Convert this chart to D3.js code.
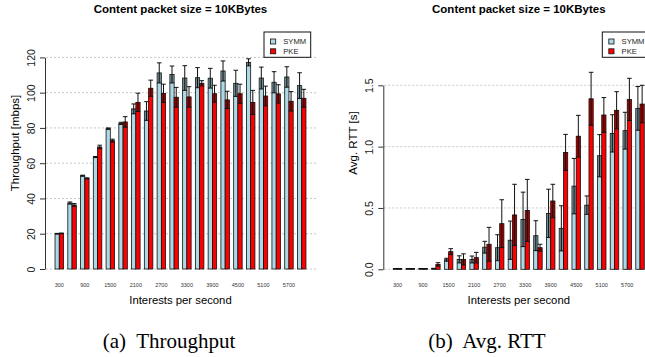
<!DOCTYPE html>
<html>
<head>
<meta charset="utf-8">
<script src="https://cdn.jsdelivr.net/npm/d3@7"></script>
<style>
  body { margin: 0; background: #fff; }
  svg { display: block; font-family: "Liberation Sans", Arial, sans-serif; }
</style>
</head>
<body>
<div id="chart"></div>
<script>
// categories (interests per second)
const rates = ['300', '600', '900', '1200', '1500', '1800', '2100', '2400', '2700', '3000',
               '3300', '3600', '3900', '4200', '4500', '4800', '5100', '5400', '5700', '6000'];
const xTickLabels = ['300', '', '900', '', '1500', '', '2100', '', '2700', '',
                     '3300', '', '3900', '', '4500', '', '5100', '', '5700', ''];
const seriesNames = ['SYMM', 'PKE'];

// throughput [mbps]
const thrSymm   = [20.0, 37.4, 52.9, 63.5, 79.6, 82.6, 90.8, 89.6, 111.2, 110.3,
                   108.3, 108.5, 108.2, 112.3, 105.3, 117.2, 108.3, 105.9, 108.9, 104.0];
const thrSymmSd = [0.2, 0.6, 0.3, 0.3, 0.4, 0.6, 2.8, 5.3, 5.7, 4.8,
                   7.0, 5.7, 5.6, 5.7, 7.4, 2.0, 6.2, 6.0, 5.8, 7.3];
const thrPke    = [20.2, 36.3, 51.4, 69.2, 72.8, 83.4, 94.5, 102.5, 99.6, 97.4,
                   97.6, 105.3, 99.4, 95.9, 99.4, 94.5, 98.1, 99.3, 95.1, 96.8];
const thrPkeSd  = [0.2, 0.8, 0.3, 1.0, 0.8, 3.0, 5.2, 4.6, 5.2, 5.6,
                   5.8, 1.5, 4.8, 4.9, 5.4, 6.8, 5.6, 5.2, 5.5, 5.1];

// avg. RTT [s]
const rttSymm   = [0.005, 0.005, 0.005, 0.006, 0.078, 0.081, 0.080, 0.180, 0.176, 0.237,
                   0.407, 0.274, 0.456, 0.334, 0.678, 0.523, 0.926, 1.108, 1.130, 1.312];
const rttSymmSd = [0.001, 0.001, 0.001, 0.002, 0.012, 0.029, 0.028, 0.048, 0.106, 0.156,
                   0.222, 0.122, 0.197, 0.184, 0.226, 0.075, 0.172, 0.152, 0.150, 0.178];
const rttPke    = [0.005, 0.005, 0.005, 0.040, 0.144, 0.081, 0.095, 0.204, 0.372, 0.443,
                   0.480, 0.176, 0.557, 0.953, 1.085, 1.390, 1.258, 1.296, 1.385, 1.347];
const rttPkeSd  = [0.001, 0.001, 0.001, 0.014, 0.024, 0.045, 0.043, 0.138, 0.195, 0.250,
                   0.253, 0.028, 0.136, 0.147, 0.170, 0.216, 0.142, 0.152, 0.172, 0.153];

const thrTicks = [0, 20, 40, 60, 80, 100, 120];
const rttTicks = [0, 0.5, 1.0, 1.5];

const colors = ['#add8e6', '#ff0000'];
const width = 645, height = 357;

const svg = d3.select('#chart').append('svg')
  .attr('width', width)
  .attr('height', height);

function drawPanel(opts) {
  const g = svg.append('g').attr('transform', `translate(${opts.left},0)`);
  const plotW = 271;

  // R barplot user coords: 20 groups of 2 bars with a gap of 1
  const x = d3.scaleLinear().domain([-1.36, 62.36]).range([0, plotW]);
  const y = d3.scaleLinear().domain(opts.yDomain).range(opts.yRange);
  const bw = x(2) - x(1);

  const rows = [];
  rates.forEach((r, i) => {
    opts.means.forEach((m, s) => {
      rows.push({ i: i, s: s, m: m[i], sd: opts.sds[s][i] });
    });
  });

  //grid
  g.append('g').selectAll('line')
    .data(opts.ticks)
    .enter()
    .append('line')
    .attr('x1', 1).attr('x2', plotW)
    .attr('y1', d => y(d)).attr('y2', d => y(d))
    .attr('stroke', '#c8c8c8')
    .attr('stroke-dasharray', '2,2');

  //bars
  const bars = g.append('g').selectAll('g')
    .data(rows)
    .enter()
    .append('g');

  bars.append('rect')
    .attr('x', d => x(1 + 3 * d.i + d.s))
    .attr('width', bw)
    .attr('y', d => y(d.m))
    .attr('height', d => y(0) - y(d.m))
    .attr('fill', d => colors[d.s])
    .attr('stroke', '#111')
    .attr('stroke-width', 0.8);

  // darkened band between mean-sd and mean
  bars.append('rect')
    .attr('x', d => x(1 + 3 * d.i + d.s) + 0.4)
    .attr('width', bw - 0.8)
    .attr('y', d => y(d.m))
    .attr('height', d => y(Math.max(0, d.m - d.sd)) - y(d.m))
    .attr('fill', '#000')
    .attr('fill-opacity', 0.36);

  //whiskers
  const cx = d => x(1.5 + 3 * d.i + d.s);
  bars.append('line')
    .attr('x1', cx).attr('x2', cx)
    .attr('y1', d => y(Math.max(0, d.m - d.sd)))
    .attr('y2', d => y(d.m + d.sd))
    .attr('stroke', '#111');
  bars.append('line')
    .attr('x1', d => cx(d) - 2.3).attr('x2', d => cx(d) + 2.3)
    .attr('y1', d => y(d.m + d.sd)).attr('y2', d => y(d.m + d.sd))
    .attr('stroke', '#111');
  bars.append('line')
    .attr('x1', d => cx(d) - 2.3).attr('x2', d => cx(d) + 2.3)
    .attr('y1', d => y(Math.max(0, d.m - d.sd))).attr('y2', d => y(Math.max(0, d.m - d.sd)))
    .attr('stroke', '#111');

  //y axis
  const yAxis = g.append('g')
    .call(d3.axisLeft(y).tickValues(opts.ticks).tickSize(5).tickSizeOuter(0).tickFormat(opts.fmt));
  yAxis.select('.domain').attr('stroke', '#333');
  yAxis.selectAll('.tick line').attr('stroke', '#333');
  yAxis.selectAll('.tick text')
    .attr('x', 0).attr('y', 0)
    .attr('dy', '0.35em')
    .attr('transform', 'translate(-13.5,0) rotate(-90)')
    .attr('text-anchor', 'middle')
    .attr('fill', '#222')
    .style('font-size', '10.5px')
    .style('font-family', '"Liberation Sans", Arial, sans-serif');

  //category labels
  g.append('g').selectAll('text')
    .data(xTickLabels)
    .enter()
    .append('text')
    .attr('x', (d, i) => x(2 + 3 * i))
    .attr('y', 286.5)
    .attr('text-anchor', 'middle')
    .style('font-size', '5.5px')
    .attr('fill', '#333')
    .text(d => d);

  //titles
  g.append('text')
    .attr('x', plotW / 2).attr('y', 13)
    .attr('text-anchor', 'middle')
    .style('font-size', '11.5px')
    .style('font-weight', 'bold')
    .text('Content packet size = 10KBytes');

  g.append('text')
    .attr('x', plotW / 2).attr('y', 304)
    .attr('text-anchor', 'middle')
    .style('font-size', '11.3px')
    .text('Interests per second');

  g.append('text')
    .attr('transform', 'translate(-30,143) rotate(-90)')
    .attr('dy', '0.35em')
    .attr('text-anchor', 'middle')
    .style('font-size', '11.5px')
    .text(opts.yLabel);

  //legend
  const lg = g.append('g').attr('transform', 'translate(219,32)');
  lg.append('rect')
    .attr('width', 46.7).attr('height', 25.3)
    .attr('fill', '#fff')
    .attr('stroke', '#111');
  seriesNames.forEach((name, s) => {
    lg.append('rect')
      .attr('x', 6.5).attr('y', 7 + s * 9.8)
      .attr('width', 5.2).attr('height', 5)
      .attr('fill', colors[s])
      .attr('stroke', '#111')
      .attr('stroke-width', 0.8);
    lg.append('text')
      .attr('x', 19.3).attr('y', 9.7 + s * 9.8)
      .attr('dy', '0.35em')
      .style('font-size', '7.6px')
      .attr('fill', '#222')
      .text(name);
  });
}

drawPanel({
  left: 45,
  means: [thrSymm, thrPke],
  sds: [thrSymmSd, thrPkeSd],
  yDomain: [0, 120],
  yRange: [269, 57.4],
  ticks: thrTicks,
  fmt: d3.format('d'),
  yLabel: 'Throughput [mbps]'
});

drawPanel({
  left: 383.3,
  means: [rttSymm, rttPke],
  sds: [rttSymmSd, rttPkeSd],
  yDomain: [0, 1.5],
  yRange: [269.3, 85.3],
  ticks: rttTicks,
  fmt: d3.format('.1f'),
  yLabel: 'Avg. RTT [s]'
});

//captions
svg.append('text')
  .attr('x', 169).attr('y', 348)
  .attr('text-anchor', 'middle')
  .style('font-family', '"Liberation Serif", "Times New Roman", serif')
  .style('font-size', '21px')
  .style('white-space', 'pre')
  .text('(a)  Throughput');

svg.append('text')
  .attr('x', 487).attr('y', 348)
  .attr('text-anchor', 'middle')
  .style('font-family', '"Liberation Serif", "Times New Roman", serif')
  .style('font-size', '21px')
  .style('white-space', 'pre')
  .text('(b)  Avg. RTT');
</script>
</body>
</html>
